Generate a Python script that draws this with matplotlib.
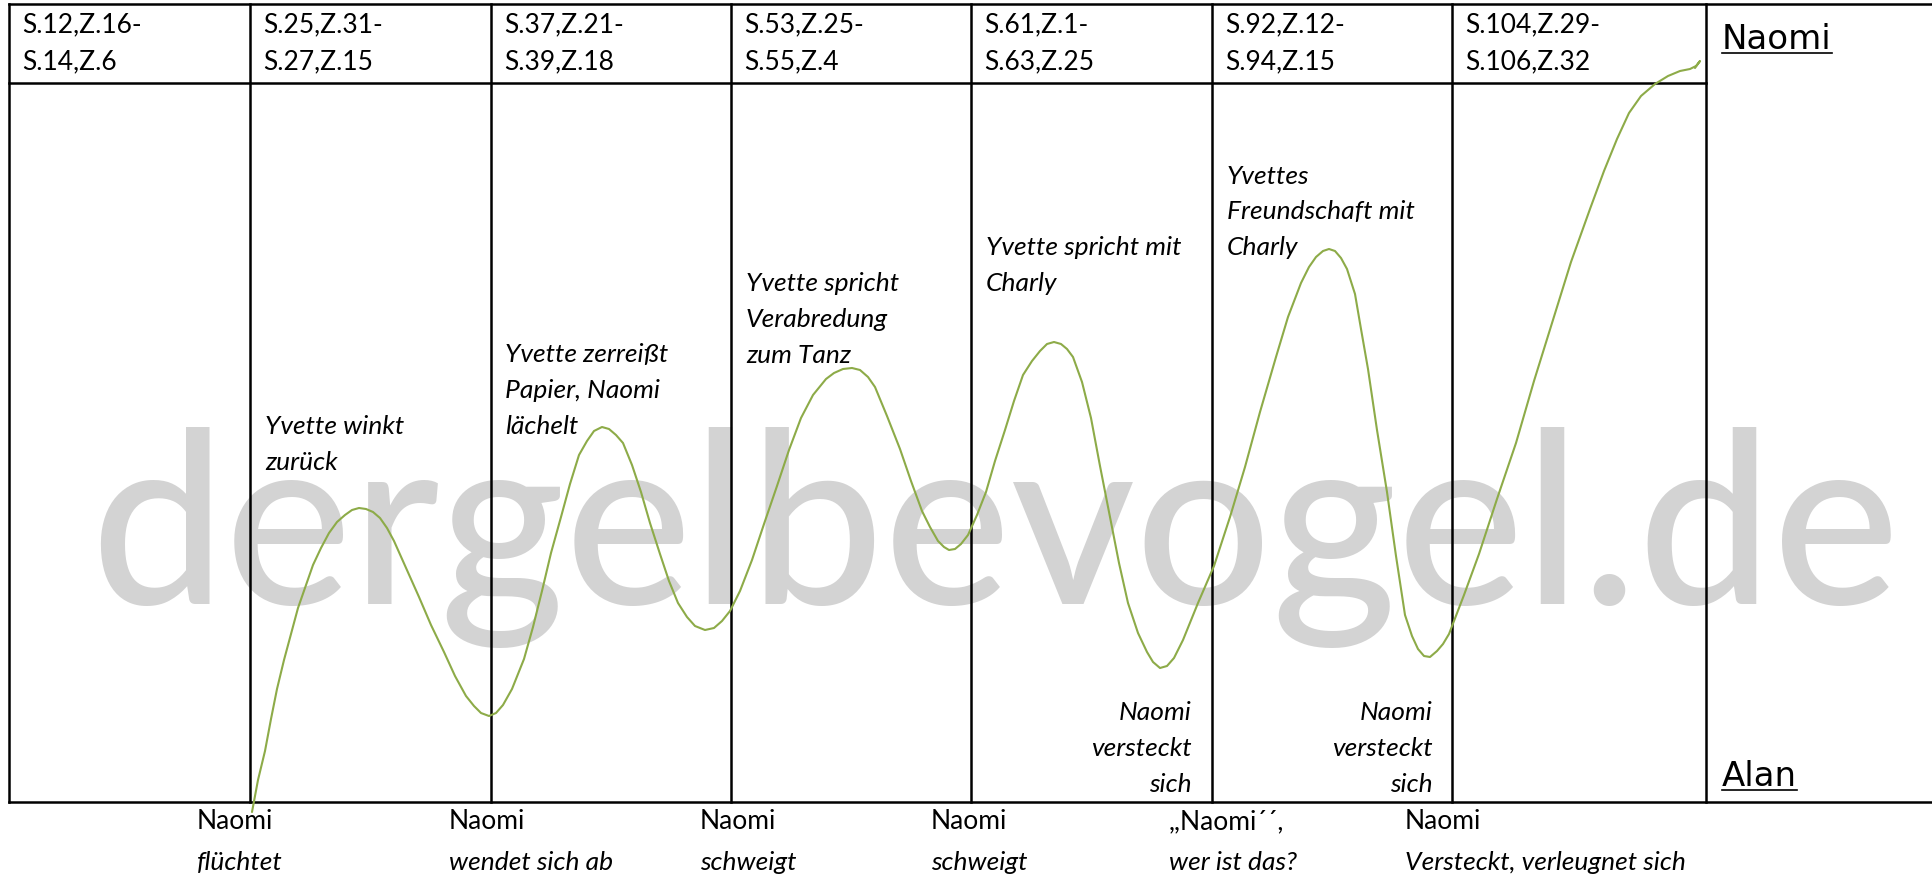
import matplotlib
matplotlib.use("Agg")
import matplotlib.pyplot as plt

W, H = 1933, 878

# column borders (px) and the two horizontal rules
col_x = [9, 250, 491, 731, 971, 1212, 1452, 1706]
top_y, head_y, bot_y = 5, 84, 803

headers = [
    "S.12,Z.16-\nS.14,Z.6",
    "S.25,Z.31-\nS.27,Z.15",
    "S.37,Z.21-\nS.39,Z.18",
    "S.53,Z.25-\nS.55,Z.4",
    "S.61,Z.1-\nS.63,Z.25",
    "S.92,Z.12-\nS.94,Z.15",
    "S.104,Z.29-\nS.106,Z.32",
]

# the tension curve (px, y downwards)
curve_x = [252, 258, 265, 271, 277, 284, 291, 298, 306, 313, 321, 329, 337, 345, 352, 359, 366, 373, 380,
           387, 394, 406, 419, 431, 444, 455, 466, 474, 481, 489, 496, 503, 512,
           524, 533, 542, 551, 561, 570, 579, 587, 594, 602, 609, 616, 623, 632,
           641, 650, 660, 669, 678, 687, 695, 705, 714, 722, 730, 740,
           752, 764, 777, 789, 801, 813, 826, 834, 843, 852, 860, 868, 875, 887,
           900, 911, 922, 930, 938, 944, 949, 955, 961, 968, 977,
           986, 995, 1005, 1014, 1023, 1032, 1040, 1047, 1054, 1061, 1067, 1073, 1082,
           1091, 1100, 1110, 1119, 1128, 1138, 1147, 1153, 1160, 1167, 1174, 1183, 1198,
           1214, 1230, 1245, 1260, 1276, 1288, 1301, 1309, 1316, 1323, 1329, 1335, 1341, 1347, 1355,
           1361, 1368, 1377, 1387, 1396, 1405, 1412, 1418, 1424, 1430, 1437, 1443, 1449, 1464,
           1479, 1497, 1516, 1534, 1553, 1571, 1590, 1604, 1617, 1629, 1641, 1655,
           1668, 1680, 1690, 1696, 1700, 1695]
curve_y = [813, 781, 752, 720, 690, 661, 635, 609, 586, 566, 549, 534, 523, 516, 511, 509, 510, 513, 519,
           529, 542, 569, 598, 626, 653, 677, 697, 707, 714, 717, 714, 706, 690,
           660, 628, 592, 554, 518, 485, 456, 442, 432, 428, 430, 436, 444, 466,
           493, 524, 555, 582, 604, 618, 627, 631, 629, 622, 612, 592,
           561, 525, 487, 451, 419, 396, 380, 374, 370, 369, 371, 378, 388, 417,
           450, 482, 512, 528, 542, 548, 551, 550, 545, 536, 516,
           493, 462, 431, 402, 376, 362, 352, 345, 343, 345, 350, 358, 383,
           419, 467, 518, 564, 604, 634, 653, 663, 669, 667, 659, 641, 604,
           567, 518, 468, 413, 358, 318, 284, 268, 258, 252, 250, 252, 259, 270, 295,
           330, 370, 431, 493, 557, 616, 637, 650, 657, 658, 652, 645, 635, 596,
           555, 500, 444, 382, 321, 263, 210, 172, 140, 114, 97, 85,
           77, 72, 70, 67, 62, 69]

notes = ["Yvette winkt\nzurück", "Yvette zerreißt\nPapier, Naomi\nlächelt",
         "Yvette spricht\nVerabredung\nzum Tanz", "Yvette spricht mit\nCharly",
         "Yvettes\nFreundschaft mit\nCharly"]
notes_x = [265, 505, 746, 986, 1227]
notes_y = [427, 355, 284, 248, 176]

hide_notes = ["Naomi\nversteckt\nsich", "Naomi\nversteckt\nsich"]
hide_x = [1192, 1433]
hide_y = [713, 713]

below_top = ["Naomi", "Naomi", "Naomi", "Naomi", ",,Naomi´´,", "Naomi"]
below_bottom = ["flüchtet", "wendet sich ab", "schweigt", "schweigt", "wer ist das?",
                "Versteckt, verleugnet sich"]
below_x = [197, 449, 700, 931, 1169, 1405]

FONT = "Lato"
FS = 19
LS = 36  # px between lines

fig = plt.figure(figsize=(W / 100, H / 100), dpi=100)
ax = fig.add_axes([0, 0, 1, 1])
ax.set_xlim(0, W)
ax.set_ylim(H, 0)
ax.axis("off")

# watermark first, so everything else sits on top
wm = ax.text(90, 604, "dergelbevogel.de", fontsize=100, family=FONT, weight="medium",
             color="#d3d3d3", va="baseline", ha="left", zorder=0)
fig.canvas.draw()
r = fig.canvas.get_renderer()
wm.set_fontsize(100 * 1810 / wm.get_window_extent(r).width)

lw = 1.8
ax.plot([col_x[0], W], [top_y, top_y], color="k", lw=lw, zorder=2)
ax.plot([col_x[0], W], [bot_y, bot_y], color="k", lw=lw, zorder=2)
ax.plot([col_x[0], col_x[-1]], [head_y, head_y], color="k", lw=lw, zorder=2)
for x in col_x:
    ax.plot([x, x], [top_y, bot_y], color="k", lw=lw, zorder=2)

for x, txt in zip(col_x, headers):
    for i, line in enumerate(txt.split("\n")):
        ax.text(x + 13, 25 + i * 37, line, fontsize=FS, family=FONT, va="center", ha="left")

ax.plot(curve_x, curve_y, color="#8dab48", lw=1.5, zorder=3,
        solid_joinstyle="round", solid_capstyle="round")

for txt, x, y in zip(notes, notes_x, notes_y):
    for i, line in enumerate(txt.split("\n")):
        ax.text(x, y + i * LS, line, fontsize=FS, family=FONT, style="italic",
                va="center", ha="left", zorder=4)
for txt, x, y in zip(hide_notes, hide_x, hide_y):
    for i, line in enumerate(txt.split("\n")):
        ax.text(x, y + i * LS, line, fontsize=FS, family=FONT, style="italic",
                va="center", ha="right", zorder=4)

for x, a, b in zip(below_x, below_top, below_bottom):
    ax.text(x, 822, a, fontsize=FS, family=FONT, va="center", ha="left")
    ax.text(x, 863, b, fontsize=FS, family=FONT, style="italic", va="center", ha="left")

# poles of the scale, underlined
for label, base in [("Naomi", 49), ("Alan", 786)]:
    t = ax.text(1722, base, label, fontsize=24.5, family="DejaVu Sans", va="baseline", ha="left")
    fig.canvas.draw()
    bb = t.get_window_extent(fig.canvas.get_renderer())
    ax.plot([1722, 1722 + bb.width], [base + 5, base + 5], color="k", lw=1.2)

fig.savefig("out.png", dpi=100)
